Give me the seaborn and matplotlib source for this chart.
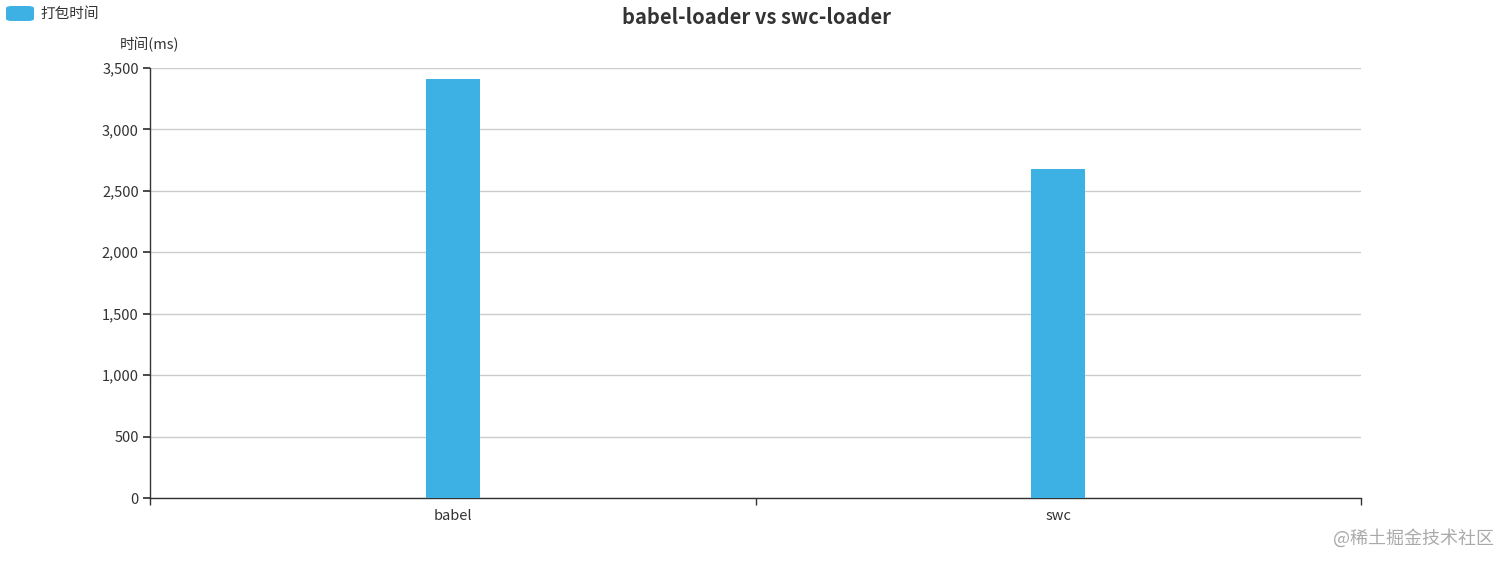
import pandas as pd
import matplotlib.pyplot as plt
import seaborn as sns
from matplotlib.patches import FancyBboxPatch
from matplotlib.ticker import FixedLocator, FuncFormatter

loaders = ['babel', 'swc']
build_ms = [3410, 2678]
series_name = '打包时间'
yticks = [0, 500, 1000, 1500, 2000, 2500, 3000, 3500]

df = pd.DataFrame({'loader': loaders, 'ms': build_ms})

sns.set_theme(style='white')
plt.rcParams['font.family'] = ['Noto Sans CJK SC', 'DejaVu Sans']

fig = plt.figure(figsize=(15.12, 5.66), dpi=100)
ax = fig.add_axes([150 / 1512, 68 / 566, 1211 / 1512, 430 / 566])

sns.barplot(data=df, x='loader', y='ms', color='#3eb1e4', saturation=1,
            width=0.09, linewidth=0, ax=ax, zorder=3)

ax.set_xlim(-0.5, 1.5)
ax.set_ylim(0, 3500)
ax.set_yticks(yticks)
ax.yaxis.set_major_formatter(FuncFormatter(lambda v, p: f'{int(v):,}'))
ax.grid(axis='y', color='#cccccc', linewidth=1, zorder=0)
ax.grid(axis='x', visible=False)

for s in ['top', 'right']:
    ax.spines[s].set_visible(False)
for s in ['left', 'bottom']:
    ax.spines[s].set_color('#333333')
    ax.spines[s].set_linewidth(1)

ax.tick_params(axis='y', length=5, color='#333333', labelsize=10.5,
               labelcolor='#333333', pad=3, left=True)
ax.tick_params(axis='x', which='major', length=0, labelsize=10.5,
               labelcolor='#333333', pad=8)
ax.xaxis.set_minor_locator(FixedLocator([-0.5, 0.5, 1.5]))
ax.tick_params(axis='x', which='minor', length=5, color='#333333', bottom=True)
ax.set_xlabel('')
ax.set_ylabel('')

fig.text(0.5, 1 - 17 / 566, 'babel-loader vs swc-loader', ha='center', va='center',
         fontsize=14.5, fontweight='bold', color='#333333')
fig.text(150 / 1512, 1 - 44 / 566, '时间(ms)', ha='center', va='center',
         fontsize=10.5, color='#333333')

# legend in top-left corner
fig.patches.append(FancyBboxPatch((6 / 1512, 1 - 21 / 566), 28 / 1512, 15 / 566,
                                  boxstyle='round,pad=0,rounding_size=0.004',
                                  transform=fig.transFigure, facecolor='#3eb1e4',
                                  edgecolor='none'))
fig.text(40 / 1512, 1 - 14 / 566, series_name, ha='left', va='center',
         fontsize=10.5, color='#333333')

fig.text(1494 / 1512, 1 - 538 / 566, '@稀土掘金技术社区', ha='right', va='center',
         fontsize=13, color='#aaaaaa')

fig.savefig('out.png', dpi=100)
